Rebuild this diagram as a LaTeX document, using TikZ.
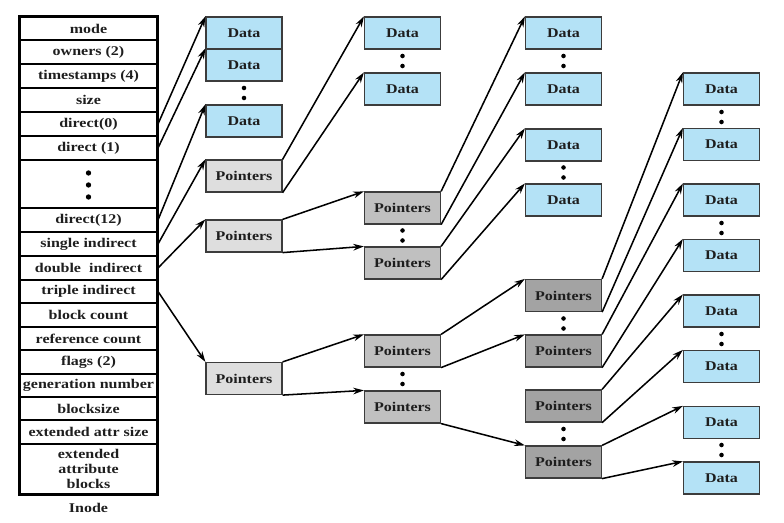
\documentclass[tikz,border=0pt]{standalone}
\usepackage{fontspec}
\setmainfont{Liberation Serif}[FakeStretch=1.2]
\usetikzlibrary{arrows.meta}
\definecolor{datablue}{RGB}{180,226,246}
\definecolor{ptrlight}{RGB}{222,222,222}
\definecolor{ptrmid}{RGB}{192,192,192}
\definecolor{ptrdark}{RGB}{163,163,163}
\definecolor{boxline}{RGB}{60,60,60}
\definecolor{ink}{RGB}{30,30,30}
\tikzset{
  field/.style={draw, line width=1.5pt, minimum width=102.75pt, minimum height=18pt, inner sep=0pt, align=center},
  block/.style={draw=boxline, line width=0.9pt, minimum width=57pt, minimum height=24pt, inner sep=0pt},
  datablk/.style={block, fill=datablue},
  ptrA/.style={block, fill=ptrlight},
  ptrB/.style={block, fill=ptrmid},
  ptrC/.style={block, fill=ptrdark},
  link/.style={-{Stealth[length=8pt,width=5pt]}, line width=1.15pt},
}
\begin{document}
\begin{tikzpicture}[x=0.75pt, y=-0.75pt, font=\fontsize{10}{11.5}\selectfont\bfseries, text=ink]
\useasboundingbox (0,0) rectangle (784,523);
% inode
\node[field, minimum height=17.25pt] (mode) at (88.5,28.5) {mode};
\node[field] (owners) at (88.5,52) {owners (2)};
\node[field] (stamps) at (88.5,76) {timestamps (4)};
\node[field] (size) at (88.5,100) {size};
\node[field] (dir0) at (88.5,124) {direct(0)};
\node[field] (dir1) at (88.5,148) {direct (1)};
\node[field, minimum height=36pt] (gap) at (88.5,184) {};
\node[field] (dir12) at (88.5,220) {direct(12)};
\node[field] (single) at (88.5,244) {single indirect};
\node[field] (double) at (88.5,268) {double \ indirect};
\node[field, minimum height=17.25pt] (triple) at (88.5,291.5) {triple indirect};
\node[field] (bcount) at (88.5,315) {block count};
\node[field, minimum height=17.25pt] (rcount) at (88.5,338.5) {reference count};
\node[field] (flags) at (88.5,362) {flags (2)};
\node[field, minimum height=17.25pt] (gen) at (88.5,385.5) {generation number};
\node[field, minimum height=17.25pt] (bsize) at (88.5,408.5) {blocksize};
\node[field] (xsize) at (88.5,432) {extended attr size};
\node[field, minimum height=37.5pt] (xblk) at (88.5,469) {extended\\attribute\\blocks};
\draw[line width=2.2pt] (mode.north west) rectangle (xblk.south east);
\foreach \d in {-12,0,12} \fill (88.5,185+\d) circle[radius=2pt];
\node (inode) at (88.5,508) {Inode};
% first level
\node[datablk] (d1a) at (244,33) {Data};
\node[datablk] (d1b) at (244,65) {Data};
\node[datablk] (d1c) at (244,121) {Data};
\node[ptrA] (p1s) at (244,176) {Pointers};
\node[ptrA] (p1d) at (244,236) {Pointers};
\node[ptrA] (p1t) at (244,378.5) {Pointers};
% second level
\node[datablk] (d2a) at (402.5,33) {Data};
\node[datablk] (d2b) at (402.5,89) {Data};
\node[ptrB] (p2a) at (402.5,208) {Pointers};
\node[ptrB] (p2b) at (402.5,263) {Pointers};
\node[ptrB] (p2c) at (402.5,351) {Pointers};
\node[ptrB] (p2d) at (402.5,407) {Pointers};
% third level
\node[datablk] (d3a) at (563.5,33) {Data};
\node[datablk] (d3b) at (563.5,89) {Data};
\node[datablk] (d3c) at (563.5,145) {Data};
\node[datablk] (d3d) at (563.5,200) {Data};
\node[ptrC] (p3a) at (563.5,295.5) {Pointers};
\node[ptrC] (p3b) at (563.5,351) {Pointers};
\node[ptrC] (p3c) at (563.5,406) {Pointers};
\node[ptrC] (p3d) at (563.5,462) {Pointers};
% fourth level
\node[datablk] (d4a) at (721.5,89) {Data};
\node[datablk] (d4b) at (721.5,144.5) {Data};
\node[datablk] (d4c) at (721.5,200) {Data};
\node[datablk] (d4d) at (721.5,255.5) {Data};
\node[datablk] (d4e) at (721.5,311) {Data};
\node[datablk] (d4f) at (721.5,366.5) {Data};
\node[datablk] (d4g) at (721.5,422.5) {Data};
\node[datablk] (d4h) at (721.5,478) {Data};
% dots between blocks
\foreach \x/\y in {244/93, 402.5/61, 402.5/235.5, 402.5/379, 563.5/61, 563.5/172.5,
  563.5/323.5, 563.5/434, 721.5/117, 721.5/228, 721.5/339, 721.5/450} {
  \fill (\x,\y-5) circle[radius=1.7pt];
  \fill (\x,\y+5) circle[radius=1.7pt];
}
% links
\draw[link] (dir0.east) -- (d1a.north west);
\draw[link] (dir1.east) -- (d1b.north west);
\draw[link] (dir12.east) -- (d1c.north west);
\draw[link] (single.east) -- (p1s.north west);
\draw[link] (double.east) -- (p1d.north west);
\draw[link] (triple.east) -- (p1t.north west);
\draw[link] (p1s.north east) -- (d2a.north west);
\draw[link] (p1s.south east) -- (d2b.north west);
\draw[link] (p1d.north east) -- (p2a.north west);
\draw[link] (p1d.south east) -- (p2b.north west);
\draw[link] (p1t.north east) -- (p2c.north west);
\draw[link] (p1t.south east) -- (p2d.north west);
\draw[link] (p2a.north east) -- (d3a.north west);
\draw[link] (p2a.south east) -- (d3b.north west);
\draw[link] (p2b.north east) -- (d3c.north west);
\draw[link] (p2b.south east) -- (d3d.north west);
\draw[link] (p2c.north east) -- (p3a.north west);
\draw[link] (p2c.south east) -- (p3b.north west);
\draw[link] (p2d.south east) -- (p3d.north west);
\draw[link] (p3a.north east) -- (d4a.north west);
\draw[link] (p3a.south east) -- (d4b.north west);
\draw[link] (p3b.north east) -- (d4c.north west);
\draw[link] (p3b.south east) -- (d4d.north west);
\draw[link] (p3c.north east) -- (d4e.north west);
\draw[link] (p3c.south east) -- (d4f.north west);
\draw[link] (p3d.north east) -- (d4g.north west);
\draw[link] (p3d.south east) -- (d4h.north west);
\end{tikzpicture}
\end{document}
